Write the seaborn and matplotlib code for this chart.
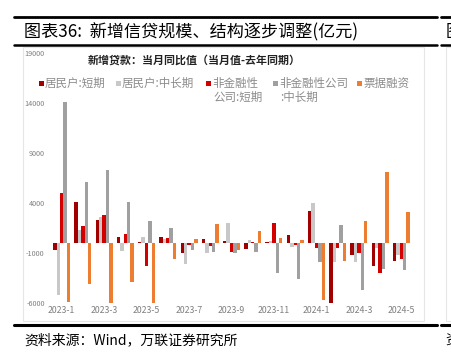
import matplotlib
matplotlib.use("Agg")
import matplotlib.pyplot as plt
from matplotlib.patches import Rectangle
from matplotlib.lines import Line2D
import seaborn as sns
import pandas as pd

months = ['2023-1', '2023-2', '2023-3', '2023-4', '2023-5', '2023-6', '2023-7', '2023-8',
          '2023-9', '2023-10', '2023-11', '2023-12', '2024-1', '2024-2', '2024-3', '2024-4', '2024-5']
series_names = ['居民户:短期', '居民户:中长期', '非金融性公司:短期', '非金融性公司:中长期', '票据融资']
hh_short = [-650, 4100, 2300, 600, 150, 600, -1000, 400, 200, -550, 100, 850, 3200, -6100, -1200, -2250, -1750]
hh_long = [-5200, 1300, 2600, -800, 600, 400, -2100, -1000, 2000, 350, 200, -350, 4050, -1850, -1850, -500, -1200]
corp_short = [5000, 1700, 2800, 900, -2300, 550, -200, -250, -900, 100, 2000, -200, -500, -450, -1000, -3000, -1550]
corp_long = [14100, 6100, 7300, 4100, 2200, 1500, -700, -900, -1000, -850, -2950, -3550, -1900, 1850, -4700, -2550, -2700]
bill = [-5900, -4100, -6300, -3900, -6300, -1550, 450, 1950, -700, 1250, 550, 300, -5650, -1750, 2200, 7150, 3150]
yticks = [-6000, -1000, 4000, 9000, 14000, 19000]
xtick_labels = ['2023-1', '2023-3', '2023-5', '2023-7', '2023-9', '2023-11', '2024-1', '2024-3', '2024-5']

colors = ['#A00000', '#C8C8C8', '#D40000', '#A0A0A0', '#ED7D31']

rows = []
for name, vals in zip(series_names, [hh_short, hh_long, corp_short, corp_long, bill]):
    for m, v in zip(months, vals):
        rows.append({'month': m, 'value': v, 'series': name})
df = pd.DataFrame(rows)

sns.set_theme(style="white")
plt.rcParams['font.family'] = ['Noto Sans CJK SC', 'DejaVu Sans']
plt.rcParams['axes.unicode_minus'] = False

W, H = 452, 356
fig = plt.figure(figsize=(W / 100, H / 100), dpi=100)

def fx(px):
    return px / W

def fy(py):
    return 1 - py / H

ax = fig.add_axes([fx(51), fy(303), fx(412) - fx(51), fy(53) - fy(303)])
ax.patch.set_alpha(0)
sns.barplot(data=df, x='month', y='value', hue='series', order=months, hue_order=series_names,
            palette=colors, saturation=1, width=0.8, ax=ax, legend=False, linewidth=0)
ax.set_ylim(-6000, 19000)
ax.set_xlim(-0.5, len(months) - 0.5)
ax.set_yticks(yticks)
ax.set_yticklabels([str(t) for t in yticks], fontsize=5.2, color='#7F7F7F')
ax.set_xticks([months.index(l) for l in xtick_labels])
ax.set_xticklabels(xtick_labels, fontsize=6.3, color='#7F7F7F')
ax.tick_params(axis='y', length=0, pad=4.5)
ax.tick_params(axis='x', length=0, pad=2)
ax.set_xlabel('')
ax.set_ylabel('')
for s in ax.spines.values():
    s.set_visible(False)

# chart frame
fig.patches.append(Rectangle((fx(23), fy(321)), fx(424) - fx(23), fy(47) - fy(321),
                             transform=fig.transFigure, fill=False, edgecolor='#E6E6E6', linewidth=0.8))
fig.patches.append(Rectangle((fx(446), fy(321)), fx(460) - fx(446), fy(47) - fy(321),
                             transform=fig.transFigure, fill=False, edgecolor='#E6E6E6', linewidth=0.8))

# heavy rules
for y, lw in [(17, 2.0), (45, 1.8), (325, 2.2)]:
    fig.add_artist(Line2D([fx(14), fx(437)], [fy(y), fy(y)], color='black', linewidth=lw,
                          transform=fig.transFigure))
    fig.add_artist(Line2D([fx(441), fx(452)], [fy(y), fy(y)], color='black', linewidth=lw,
                          transform=fig.transFigure))

fig.text(fx(24), fy(32), '图表36:  新增信贷规模、结构逐步调整(亿元)', fontsize=12.3, color='black',
         va='center', ha='left')
fig.text(fx(446), fy(32), '图', fontsize=12.3, color='black', va='center', ha='left')
fig.text(fx(88), fy(60), '新增贷款：当月同比值（当月值-去年同期）', fontsize=7.9, fontweight='bold',
         color='#222222', va='center', ha='left')
fig.text(fx(24), fy(340), '资料来源：Wind，万联证券研究所', fontsize=10, color='black',
         va='center', ha='left', style='italic')
fig.text(fx(445), fy(340), '资', fontsize=10, color='black', va='center', ha='left')

# legend
leg = [
    (39, colors[0], ['居民户:短期']),
    (116, colors[1], ['居民户:中长期']),
    (206, colors[2], ['非金融性', '公司:短期']),
    (273, colors[3], ['非金融性公司', ':中长期']),
    (357, colors[4], ['票据融资']),
]
for x0, c, lines in leg:
    fig.patches.append(Rectangle((fx(x0), fy(86)), fx(5), 5 / H, transform=fig.transFigure,
                                 facecolor=c, edgecolor='none'))
    for i, t in enumerate(lines):
        xx = x0 + 6 if i == 0 else x0 + 7
        fig.text(fx(xx), fy(83.5 + 14 * i), t, fontsize=8.3, color='#8C8C8C', va='center', ha='left')

fig.savefig('out.png', dpi=100)
